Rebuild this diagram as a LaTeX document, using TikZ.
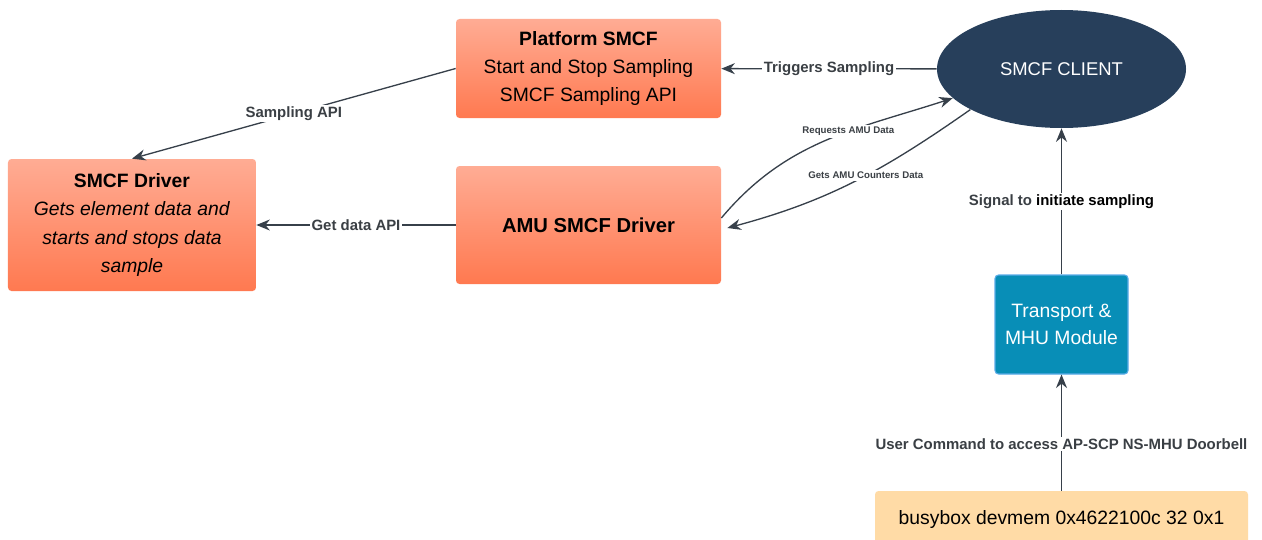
\documentclass[tikz,border=0pt]{standalone}
\usepackage{fontspec}
\setmainfont{Liberation Sans}
\usetikzlibrary{arrows.meta,shapes.geometric}
\definecolor{salmontop}{RGB}{255,172,148}
\definecolor{salmonbot}{RGB}{255,121,80}
\definecolor{clientnavy}{RGB}{39,63,91}
\definecolor{mhublue}{RGB}{8,142,183}
\definecolor{mhuedge}{RGB}{90,172,232}
\definecolor{peach}{RGB}{255,219,166}
\definecolor{wire}{RGB}{55,64,74}
\definecolor{lbl}{RGB}{58,63,68}

\begin{document}
\begin{tikzpicture}[x=0.2mm,y=-0.2mm,
  box/.style={rounded corners=2pt,top color=salmontop,bottom color=salmonbot,
    align=center,font=\fontsize{11}{16}\selectfont},
  link/.style={draw=wire,line width=0.75pt,-{Stealth[length=2.7mm,width=2.2mm]}},
  lab/.style={fill=white,text=lbl,inner sep=1pt,font=\fontsize{8.5}{10}\selectfont\bfseries},
  smalllab/.style={lab,font=\fontsize{5.5}{7}\selectfont\bfseries}]

% canvas
\fill[white] (0,0) rectangle (1262,539);
\useasboundingbox (0,0) rectangle (1262,539);

% boxes
\node[box,minimum width=5.3cm,minimum height=1.98cm] (platform) at (588.5,68.5)
  {\textbf{Platform SMCF}\\Start and Stop Sampling\\SMCF Sampling API};
\node[box,minimum width=4.96cm,minimum height=2.64cm] (driver) at (132,225)
  {\textbf{SMCF Driver}\\\textit{Gets element data and}\\\textit{starts and stops data}\\\textit{sample}};
\node[box,minimum width=5.3cm,minimum height=2.36cm,font=\fontsize{11.5}{14}\selectfont\bfseries] (amu) at (588.5,225)
  {AMU SMCF Driver};
\node[ellipse,fill=clientnavy,text=white,inner sep=0pt,minimum width=4.98cm,minimum height=2.36cm,
  font=\fontsize{10.5}{13}\selectfont] (client) at (1061.5,69) {SMCF CLIENT};
\node[rounded corners=2pt,fill=mhublue,draw=mhuedge,line width=0.6pt,text=white,align=center,
  minimum width=2.66cm,minimum height=1.98cm,font=\fontsize{11}{15}\selectfont] (mhu) at (1061.5,324.5)
  {Transport \&\\MHU Module};
\node[rounded corners=2pt,fill=peach,minimum width=7.46cm,minimum height=1.12cm,
  font=\fontsize{11}{13}\selectfont] (cmd) at (1061.5,519) {busybox devmem 0x4622100c 32 0x1};

% connectors
\draw[link] (client) -- node[lab] {Triggers Sampling} (platform);
\draw[link] (platform.west) -- node[lab] {Sampling API} (driver.north);
\draw[link] (amu) -- node[lab] {Get data API} (driver);
\draw[link] ([yshift=1.4mm]amu.east) to[out=50,in=198] node[smalllab,pos=0.6] {Requests AMU Data} (client.195);
\draw[link] (client.204) to[out=215,in=15] node[smalllab,pos=0.45] {Gets AMU Counters Data} ([xshift=1.2mm,yshift=-0.6mm]amu.east);
\draw[link] (mhu) -- node[lab] {{\color{lbl}Signal to} \textcolor{black}{initiate sampling}} (client);
\draw[link] (cmd) -- node[lab,pos=0.4] {User Command to access AP-SCP NS-MHU Doorbell} (mhu);
\end{tikzpicture}
\end{document}
